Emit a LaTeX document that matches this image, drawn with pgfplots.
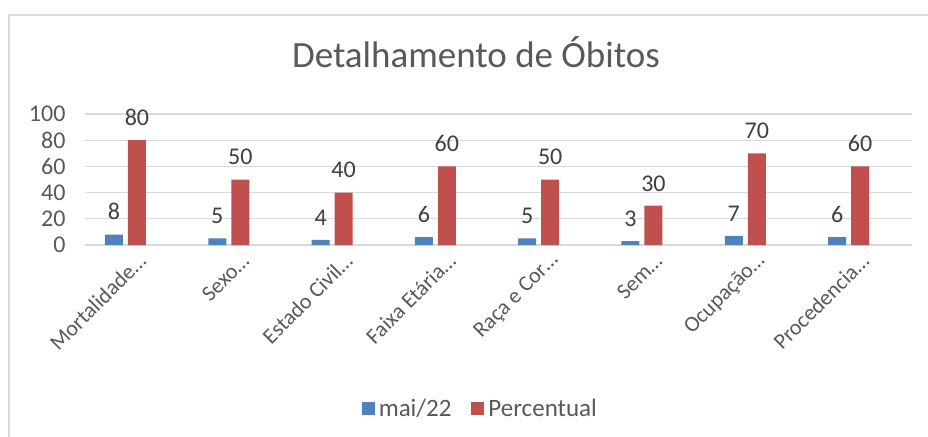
\documentclass[border=0pt]{standalone}
\usepackage{pgfplots}
\pgfplotsset{compat=1.18}
\usepackage{fontspec}
\setmainfont{Carlito}
\definecolor{cblue}{HTML}{4F81BD}
\definecolor{cred}{HTML}{C0504D}
\definecolor{cgrid}{HTML}{D9D9D9}
\definecolor{ctext}{HTML}{595959}
\definecolor{clab}{HTML}{404040}
\begin{document}
\begin{tikzpicture}
\useasboundingbox (-85pt,-191pt) rectangle (843pt,245pt);
\fill[white] (-85pt,-191pt) rectangle (843pt,245pt);
\draw[cgrid, line width=1.5pt] (-76pt,-195pt) -- (-76pt,230pt) -- (850pt,230pt);
\begin{axis}[
 name=ax, at={(0,0)}, anchor=south west,
 scale only axis, width=827pt, height=131pt,
 xmin=-0.392, xmax=7.614, ymin=0, ymax=100,
 clip=false,
 ybar=5pt, bar width=18pt,
 legend image code/.code={\fill[#1] (0pt,-6.5pt) rectangle (13pt,6.5pt);},
 xtick={0,...,7},
 xticklabels={Mortalidade…,Sexo…,Estado Civil…,Faixa Etária…,Raça e Cor…,Sem…,Ocupação…,Procedencia…},
 ytick={0,20,...,100},
 ymajorgrids, grid style={cgrid, line width=1.3pt},
 axis line style={draw=none}, major tick length=0pt,
 tick label style={font=\fontsize{24}{28}\selectfont, text=ctext},
 /pgf/number format/assume math mode=true,
 y tick label style={xshift=-16pt},
 x tick label style={font=\fontsize{22}{26}\selectfont, xshift=19pt, yshift=-10pt, rotate=45, anchor=east},
 nodes near coords,
 every node near coord/.append style={font=\fontsize{24}{28}\selectfont, text=clab, yshift=11pt},
 legend style={at={(0.478,-1.25)}, anchor=center, draw=none, fill=none,
   legend columns=2, font=\fontsize{25}{30}\selectfont, text=ctext,
   /tikz/every odd column/.append style={column sep=2pt},
   /tikz/every even column/.append style={column sep=18pt}},
]
\addplot[fill=cblue, draw=none] coordinates {(0,8) (1,5) (2,4) (3,6) (4,5) (5,3) (6,7) (7,6)};
\addplot[fill=cred, draw=none] coordinates {(0,80) (1,50) (2,40) (3,60) (4,50) (5,30) (6,70) (7,60)};
\legend{mai/22, Percentual}
\end{axis}
\node[anchor=base, text=ctext, font=\fontsize{37}{44}\selectfont] at (391pt,177pt) {Detalhamento de Óbitos};
\end{tikzpicture}
\end{document}
